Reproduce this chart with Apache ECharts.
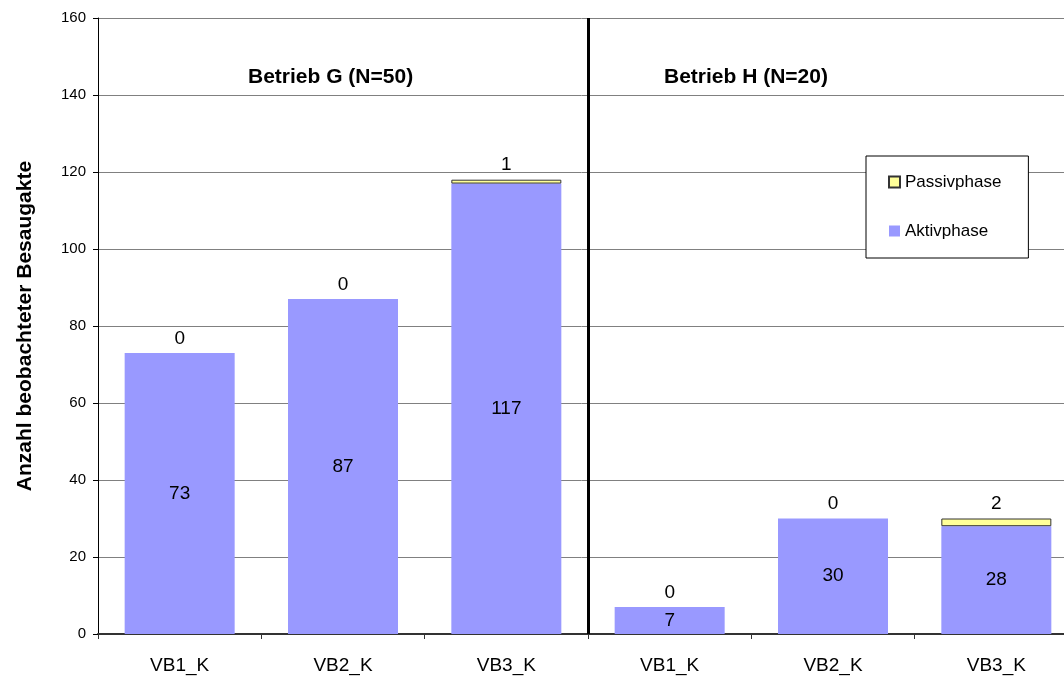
<!DOCTYPE html>
<html>
<head>
<meta charset="utf-8">
<script src="https://cdn.jsdelivr.net/npm/echarts@6/dist/echarts.min.js"></script>
<style>
  html, body { margin: 0; padding: 0; background: #fff; }
  #chart { width: 1064px; height: 679px; }
</style>
</head>
<body>
<div id="chart"></div>
<script>
// Observed suckling acts per variant, two farms side by side
const categories = ['VB1_K', 'VB2_K', 'VB3_K', 'VB1_K', 'VB2_K', 'VB3_K'];
const aktivphase = [73, 87, 117, 7, 30, 28];
const passivphase = [0, 0, 1, 0, 0, 2];
const yTicks = { min: 0, max: 160, interval: 20 };
const groupTitles = ['Betrieb G (N=50)', 'Betrieb H (N=20)'];
const groupBoundary = 3; // category index where farm H begins

const FONT = '"Liberation Sans", Arial, sans-serif';
const chart = echarts.init(document.getElementById('chart'));

// empty passive segments get no outline
const passivData = passivphase.map(v => ({
  value: v,
  itemStyle: { borderWidth: v > 0 ? 1 : 0 }
}));

chart.setOption({
  animation: false,
  textStyle: { fontFamily: FONT },
  grid: { left: 98, top: 18, width: 980, height: 616, outerBoundsMode: 'none', containLabel: false },
  legend: {
    orient: 'vertical',
    left: 866,
    top: 156,
    backgroundColor: '#fff',
    borderColor: '#000',
    borderWidth: 1,
    padding: [17, 27, 18, 22],
    itemGap: 31,
    itemWidth: 11,
    itemHeight: 11,
    icon: 'rect',
    textStyle: { fontFamily: FONT, fontSize: 17, lineHeight: 18, color: '#000' },
    data: ['Passivphase', 'Aktivphase']
  },
  graphic: [
    { type: 'text', left: 248, top: 67, style: { text: groupTitles[0], font: 'bold 21px ' + FONT, fill: '#000' } },
    { type: 'text', left: 664, top: 67, style: { text: groupTitles[1], font: 'bold 21px ' + FONT, fill: '#000' } }
  ],
  xAxis: [
    {
      type: 'category',
      data: categories,
      boundaryGap: true,
      axisLine: { lineStyle: { color: '#333', width: 2 } },
      axisTick: { show: true, length: 5, lineStyle: { color: '#333' } },
      axisLabel: { fontSize: 19, color: '#000', margin: 22, fontFamily: FONT }
    },
    { type: 'value', min: 0, max: categories.length, show: false }
  ],
  yAxis: {
    type: 'value',
    min: yTicks.min,
    max: yTicks.max,
    interval: yTicks.interval,
    name: 'Anzahl beobachteter Besaugakte',
    nameLocation: 'middle',
    nameGap: 62,
    nameTextStyle: { fontSize: 21, fontWeight: 'bold', color: '#000', fontFamily: FONT },
    axisLine: { show: true, lineStyle: { color: '#000', width: 1 } },
    axisTick: { show: true, length: 5, lineStyle: { color: '#000' } },
    axisLabel: { fontSize: 15, color: '#000', margin: 12, fontFamily: FONT },
    splitLine: { lineStyle: { color: '#808080', width: 1 } }
  },
  series: [
    {
      name: 'Aktivphase',
      type: 'bar',
      stack: 'total',
      barWidth: 110,
      data: aktivphase,
      itemStyle: { color: '#9999ff' },
      label: { show: true, position: 'inside', fontSize: 19, color: '#000', fontFamily: FONT }
    },
    {
      name: 'Passivphase',
      type: 'bar',
      stack: 'total',
      barWidth: 110,
      data: passivData,
      itemStyle: { color: '#ffff99', borderColor: '#333', borderWidth: 1 },
      label: { show: true, position: 'top', distance: 5, fontSize: 19, color: '#000', fontFamily: FONT }
    },
    {
      // vertical divider between the two farms
      type: 'line',
      xAxisIndex: 1,
      data: [],
      showSymbol: false,
      silent: true,
      markLine: {
        silent: true,
        symbol: 'none',
        label: { show: false },
        lineStyle: { color: '#000', width: 3, type: 'solid' },
        data: [{ xAxis: groupBoundary }]
      }
    }
  ]
});
</script>
</body>
</html>
